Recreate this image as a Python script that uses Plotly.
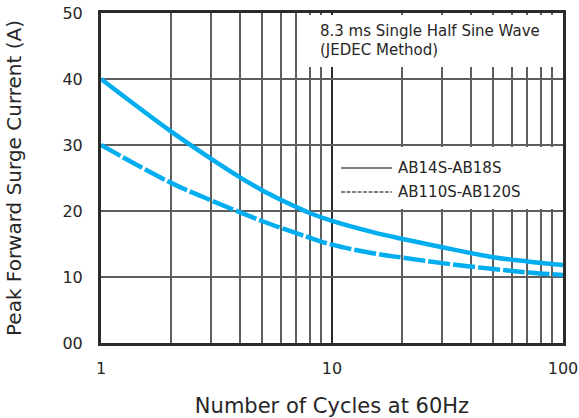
import plotly.graph_objects as go

# Surge current rating vs. number of cycles (60 Hz)
cycles = [1, 2, 3, 4, 5, 6, 7, 8, 10, 15, 20, 30, 50, 70, 100]
current_ab14s_ab18s = [40.0, 32.1, 27.9, 25.1, 23.1, 21.7, 20.6, 19.7, 18.5, 16.8, 15.8, 14.5, 13.0, 12.35, 11.8]
current_ab110s_ab120s = [30.0, 24.3, 21.6, 19.8, 18.45, 17.45, 16.65, 15.95, 14.9, 13.6, 12.95, 12.1, 11.2, 10.7, 10.3]

series_names = ["AB14S-AB18S", "AB110S-AB120S"]
note_lines = ["8.3 ms Single Half Sine Wave", "(JEDEC Method)"]

x_tick_vals = [1, 10, 100]
x_tick_text = ["1", "10", "100"]
x_minor_vals = [2, 3, 4, 5, 6, 7, 8, 9, 20, 30, 40, 50, 60, 70, 80, 90]
y_tick_vals = [0, 10, 20, 30, 40, 50]
y_tick_text = ["00", "10", "20", "30", "40", "50"]

FONT = "DejaVu Sans"
TEXT = "#262626"
BLUE = "#00AEEF"
GRID = "#5e5e5e"
FRAME = "#2b2b2b"

fig = go.Figure()
fig.add_trace(go.Scatter(
    x=cycles, y=current_ab14s_ab18s, mode="lines", name=series_names[0],
    line=dict(color=BLUE, width=4.5, shape="spline", smoothing=1.0),
    showlegend=False,
))
fig.add_trace(go.Scatter(
    x=cycles, y=current_ab110s_ab120s, mode="lines", name=series_names[1],
    line=dict(color=BLUE, width=4.5, shape="spline", smoothing=1.0, dash="22px,3px"),
    showlegend=False,
))

# plot area in pixels: left 101, right 563, top 13, bottom 343
def px(xp):
    return (xp - 101) / 462.0

def py(yp):
    return (343 - yp) / 330.0

shapes = [
    # note box
    dict(type="rect", xref="paper", yref="paper", x0=px(298), x1=px(561), y0=py(67), y1=py(15),
         fillcolor="white", line=dict(width=0), layer="above"),
    # legend box
    dict(type="rect", xref="paper", yref="paper", x0=px(333), x1=px(561), y0=py(209), y1=py(147),
         fillcolor="white", line=dict(width=0), layer="above"),
    # legend samples
    dict(type="line", xref="paper", yref="paper", x0=px(341), x1=px(392), y0=py(168), y1=py(168),
         line=dict(color="#555555", width=1.3), layer="above"),
    dict(type="line", xref="paper", yref="paper", x0=px(341), x1=px(392), y0=py(192), y1=py(192),
         line=dict(color="#555555", width=1.3, dash="4px,1.5px"), layer="above"),
]

annotations = [
    dict(xref="paper", yref="paper", x=px(318), y=py(31), xanchor="left", yanchor="middle",
         text=note_lines[0], showarrow=False, font=dict(family=FONT, size=15, color=TEXT)),
    dict(xref="paper", yref="paper", x=px(318), y=py(50), xanchor="left", yanchor="middle",
         text=note_lines[1], showarrow=False, font=dict(family=FONT, size=15, color=TEXT)),
    dict(xref="paper", yref="paper", x=px(396), y=py(168), xanchor="left", yanchor="middle",
         text=series_names[0], showarrow=False, font=dict(family=FONT, size=15, color=TEXT)),
    dict(xref="paper", yref="paper", x=px(396), y=py(192), xanchor="left", yanchor="middle",
         text=series_names[1], showarrow=False, font=dict(family=FONT, size=15, color=TEXT)),
]

fig.update_layout(
    width=579, height=418,
    margin=dict(l=101, r=16, t=13, b=75),
    paper_bgcolor="white", plot_bgcolor="white",
    font=dict(family=FONT, size=16, color=TEXT),
    shapes=shapes, annotations=annotations,
    showlegend=False,
)

fig.update_xaxes(
    type="log", range=[0, 2], automargin=False,
    tickvals=x_tick_vals, ticktext=x_tick_text,
    ticks="", ticklabelstandoff=9,
    tickfont=dict(family=FONT, size=16, color=TEXT),
    showgrid=True, gridcolor=FRAME, gridwidth=2,
    minor=dict(tickvals=x_minor_vals, showgrid=True, gridcolor=GRID, gridwidth=1.6, ticks=""),
    showline=True, linecolor=FRAME, linewidth=3, mirror=True,
    zeroline=False,
    title=dict(text="Number of Cycles at 60Hz", font=dict(family=FONT, size=21, color=TEXT),
               standoff=22),
)

fig.update_yaxes(
    range=[0, 50], automargin=False,
    tickvals=y_tick_vals, ticktext=y_tick_text,
    ticks="", ticklabelstandoff=12,
    tickfont=dict(family=FONT, size=16, color=TEXT),
    showgrid=True, gridcolor=GRID, gridwidth=1.6,
    showline=True, linecolor=FRAME, linewidth=3, mirror=True,
    zeroline=False,
    title=dict(text="Peak Forward Surge Current (A)", font=dict(family=FONT, size=20, color=TEXT),
               standoff=36),
)

fig.write_html("out.html")
